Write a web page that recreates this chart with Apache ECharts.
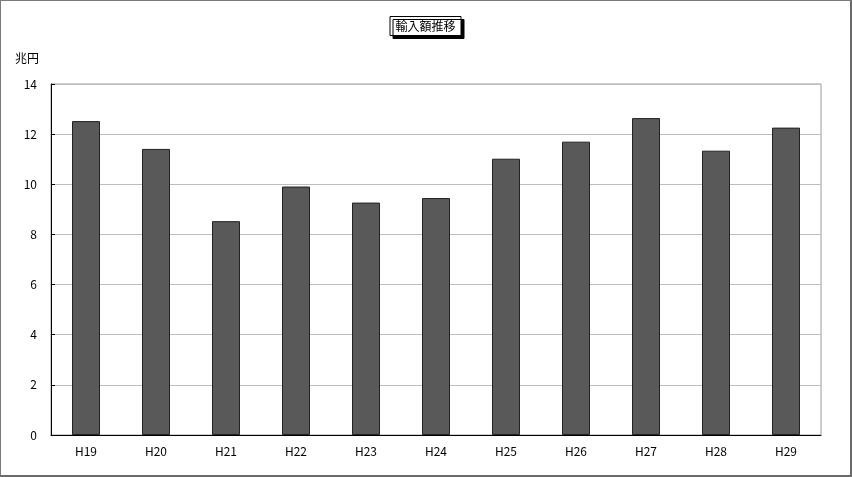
<!DOCTYPE html>
<html>
<head>
<meta charset="utf-8">
<script src="https://cdn.jsdelivr.net/npm/echarts@6/dist/echarts.min.js"></script>
<style>
  html, body { margin: 0; padding: 0; background: #fff; }
  #main { width: 852px; height: 477px; box-sizing: border-box; border: 1px solid #7a7a7a; border-right: 2px solid #6a6a6a; border-bottom: 2px solid #6a6a6a; }
</style>
</head>
<body>
<div id="main"></div>
<script>
// 年度 (平成)
var categories = ['H19', 'H20', 'H21', 'H22', 'H23', 'H24', 'H25', 'H26', 'H27', 'H28', 'H29'];
// 輸入額 (兆円)
var importValues = [12.52, 11.41, 8.53, 9.91, 9.27, 9.45, 11.02, 11.70, 12.64, 11.34, 12.26];
var yTicks = [0, 2, 4, 6, 8, 10, 12, 14];

var font = '"Noto Sans CJK JP", "Noto Sans", sans-serif';
var myChart = echarts.init(document.getElementById('main'));

myChart.setOption({
  animation: false,
  textStyle: { fontFamily: font },
  title: {
    text: '輸入額推移',
    left: 'center',
    top: 15,
    padding: [4, 6, 4, 6],
    borderColor: '#000',
    borderWidth: 1,
    backgroundColor: '#fff',
    shadowColor: '#000',
    shadowOffsetX: 3,
    shadowOffsetY: 3,
    textStyle: { fontSize: 12, fontWeight: 'normal', color: '#000', fontFamily: font }
  },
  grid: {
    left: 50,
    right: 29,
    top: 83,
    bottom: 40,
    show: true,
    borderColor: '#9a9a9a',
    borderWidth: 1
  },
  xAxis: {
    type: 'category',
    data: categories,
    axisLine: { lineStyle: { color: '#000', width: 1 } },
    axisTick: { inside: true, length: 4, lineStyle: { color: '#000' } },
    axisLabel: { color: '#000', fontSize: 12, margin: 10, fontFamily: font }
  },
  yAxis: {
    type: 'value',
    name: '兆円',
    nameLocation: 'end',
    nameGap: 20,
    nameTextStyle: { color: '#000', fontSize: 12, align: 'right', padding: [0, 12, 0, 0], fontFamily: font },
    min: yTicks[0],
    max: yTicks[yTicks.length - 1],
    interval: 2,
    axisLine: { show: true, lineStyle: { color: '#000', width: 1 } },
    axisTick: { show: true, inside: true, length: 4, lineStyle: { color: '#000' } },
    axisLabel: { color: '#000', fontSize: 12, margin: 14, fontFamily: font },
    splitLine: { show: true, lineStyle: { color: '#bdbdbd', width: 1 } }
  },
  series: [
    {
      type: 'bar',
      data: importValues,
      barWidth: 28,
      itemStyle: { color: '#595959', borderColor: '#222', borderWidth: 1 }
    }
  ]
});
</script>
</body>
</html>
